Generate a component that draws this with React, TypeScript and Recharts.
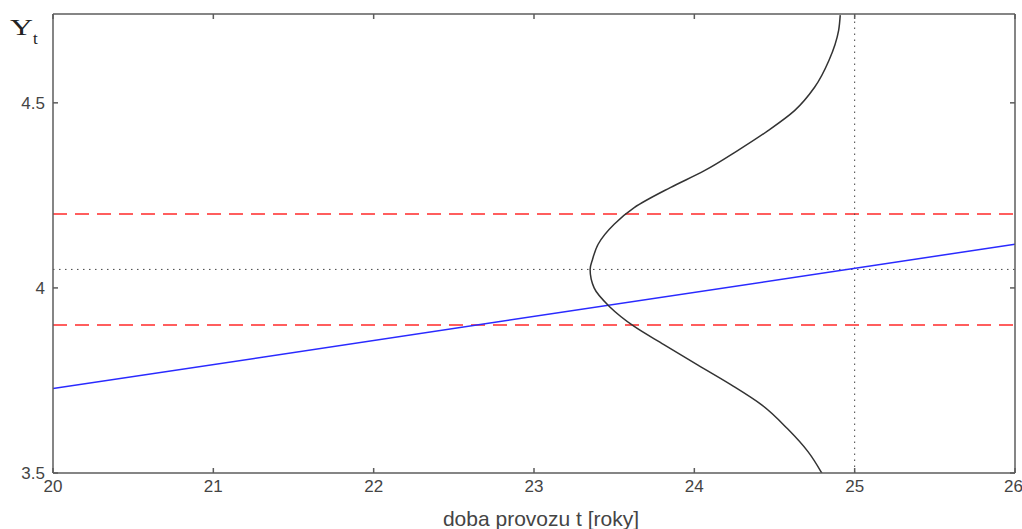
import React from "react";
import {
  LineChart,
  Line,
  XAxis,
  YAxis,
  ReferenceLine,
  Label,
} from "recharts";

// axis ticks
const xTicks = [20, 21, 22, 23, 24, 25, 26];
const yTicks = [3.5, 4, 4.5];

// trend line of Y_t over the years
const trendT = [20, 26];
const trendY = [3.728, 4.118];

// limits (red dashed) and the reference point (dotted)
const limits = [4.2, 3.9];
const refT = 25;
const refY = 4.05;

// density curve drawn sideways around t = 25
const densT = [
  24.91, 24.9, 24.84, 24.75, 24.625, 24.46, 24.27, 24.06, 23.85, 23.625, 23.5, 23.4,
  23.365, 23.35, 23.375, 23.47, 23.625, 23.81, 24.02, 24.23, 24.42, 24.58, 24.71, 24.8,
];
const densY = [
  4.737, 4.696, 4.615, 4.542, 4.479, 4.425, 4.371, 4.316, 4.271, 4.217, 4.172, 4.118,
  4.077, 4.05, 4.0, 3.95, 3.896, 3.847, 3.792, 3.738, 3.684, 3.62, 3.557, 3.496,
];

const trendData = trendT.map((t, i) => ({ x: t, y: trendY[i] }));
const densData = densT.map((t, i) => ({ x: t, y: densY[i] }));

const axisColor = "#5c5c5c";
const sans = "Liberation Sans, Arial, sans-serif";
const tickFont = { fontSize: 17, fill: "#444", fontFamily: sans };
const noLabel = () => <g />;
const axisStroke = { stroke: axisColor, strokeWidth: 1.5 };

export default function App() {
  return (
    <div style={{ position: "absolute", left: 0, top: 0, width: 1022, height: 529, background: "#fff" }}>
      <LineChart width={1022} height={529} margin={{ top: 0, right: 0, left: 0, bottom: 0 }}>
        {/* labelled axes, ticks pointing inward (MATLAB style) */}
        <XAxis
          xAxisId="b"
          type="number"
          dataKey="x"
          domain={[20, 26]}
          ticks={xTicks}
          allowDataOverflow
          height={56}
          tickSize={-5}
          tickMargin={12}
          tick={tickFont}
          tickLine={axisStroke}
          axisLine={axisStroke}
        >
          <Label
            value="doba provozu t [roky]"
            position="insideBottom"
            offset={3}
            dx={7}
            style={{ fontSize: 21, fill: "#444", fontFamily: sans }}
          />
        </XAxis>
        <YAxis
          yAxisId="l"
          type="number"
          domain={[3.5, 4.74]}
          ticks={yTicks}
          allowDataOverflow
          width={53}
          tickSize={-5}
          tickMargin={13}
          tick={tickFont}
          tickLine={axisStroke}
          axisLine={axisStroke}
          label={{
            content: (props: any) => {
              const vb = props.viewBox || { x: 0, y: 14 };
              return (
                <text
                  x={10}
                  y={vb.y + 21}
                  fill="#222"
                  fontFamily="Liberation Serif, Times New Roman, serif"
                >
                  <tspan fontSize={24} textLength={23} lengthAdjust="spacingAndGlyphs">
                    Y
                  </tspan>
                  <tspan fontSize={17} dy={9}>
                    t
                  </tspan>
                </text>
              );
            },
          }}
        />

        {/* top and right sides of the box */}
        <XAxis
          xAxisId="t"
          type="number"
          dataKey="x"
          domain={[20, 26]}
          ticks={xTicks}
          allowDataOverflow
          orientation="top"
          height={14}
          tick={noLabel}
          tickSize={-5}
          tickLine={axisStroke}
          axisLine={axisStroke}
        />
        <YAxis
          yAxisId="r"
          type="number"
          domain={[3.5, 4.74]}
          ticks={yTicks}
          allowDataOverflow
          orientation="right"
          width={7}
          tick={noLabel}
          tickSize={-5}
          tickLine={axisStroke}
          axisLine={axisStroke}
        />

        {limits.map((v) => (
          <ReferenceLine
            key={v}
            xAxisId="b"
            yAxisId="l"
            y={v}
            stroke="#ff2a2a"
            strokeWidth={1.5}
            strokeDasharray="14 8"
          />
        ))}
        <ReferenceLine xAxisId="b" yAxisId="l" y={refY} stroke="#444" strokeDasharray="1.5 4.5" />
        <ReferenceLine xAxisId="b" yAxisId="l" x={refT} stroke="#444" strokeDasharray="1.5 4.5" />

        {/* invisible copy so the top/right axes have a series */}
        <Line
          xAxisId="t"
          yAxisId="r"
          data={trendData}
          dataKey="y"
          stroke="none"
          dot={false}
          activeDot={false}
          isAnimationActive={false}
        />
        <Line
          xAxisId="b"
          yAxisId="l"
          data={trendData}
          dataKey="y"
          type="linear"
          stroke="#2a2aff"
          strokeWidth={1.5}
          dot={false}
          isAnimationActive={false}
        />
        <Line
          xAxisId="b"
          yAxisId="l"
          data={densData}
          dataKey="y"
          type="monotoneY"
          stroke="#333"
          strokeWidth={1.5}
          dot={false}
          isAnimationActive={false}
        />
      </LineChart>
    </div>
  );
}
